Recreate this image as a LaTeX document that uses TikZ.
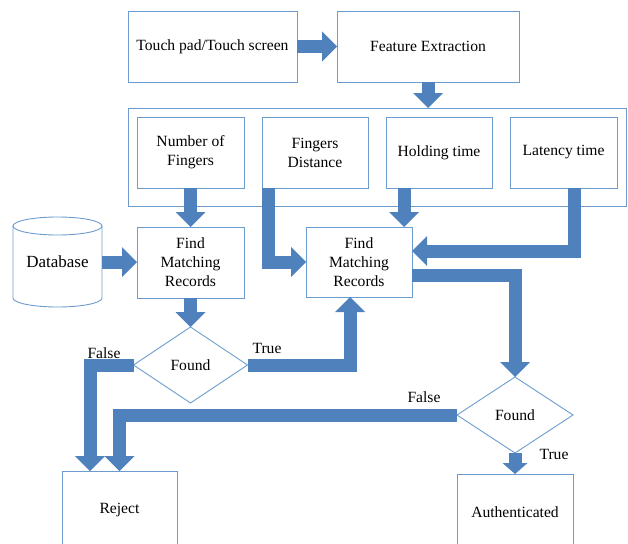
\documentclass[tikz,border=0pt]{standalone}
\usepackage{fontspec}
\setmainfont{Liberation Serif}
\usetikzlibrary{arrows.meta,shapes.geometric,calc}
\definecolor{arrowblue}{RGB}{79,129,189}
\definecolor{boxblue}{RGB}{108,156,206}
\begin{document}
\begin{tikzpicture}[x=1pt,y=-1pt,
  every node/.style={font=\fontsize{15.6}{19}\selectfont},
  box/.style={draw=boxblue, line width=0.9pt, rectangle, inner sep=0pt, outer sep=0pt, align=center},
  dia/.style={draw=boxblue, line width=0.9pt, diamond, inner sep=0pt, outer sep=0pt, align=center},
  flow/.style={draw=arrowblue, line width=13pt, line join=miter, -{Triangle[width=30pt,length=15pt,line width=0pt]}},
  lbl/.style={inner sep=0pt}
]
\useasboundingbox (0,0) rectangle (628,543);
\clip (0,0) rectangle (628,543);

% container and boxes
\node[box, minimum width=498pt, minimum height=98pt] (cont) at (377,157) {};
\node[box, minimum width=169pt, minimum height=71pt] (touch) at (212.5,46.5) {Touch pad/Touch screen};
\node[box, minimum width=182pt, minimum height=71pt] (feat) at (428,46.5) {Feature Extraction};
\node[box, minimum width=107pt, minimum height=71pt] (nof) at (190.5,152.5) {Number of\\Fingers};
\node[box, minimum width=106pt, minimum height=71pt] (fd) at (315,152.5) {Fingers\\Distance};
\node[box, minimum width=106pt, minimum height=71pt] (ht) at (439,152.5) {Holding time};
\node[box, minimum width=107pt, minimum height=71pt] (lt) at (563.5,152.5) {Latency time};

% database cylinder
\node[inner sep=0pt, minimum width=89pt, minimum height=90pt, font=\fontsize{17}{20}\selectfont] (db) at (57.5,262) {Database};
\draw[boxblue, line width=0.9pt] (57.5,226) ellipse [x radius=44.5pt, y radius=9pt];
\draw[boxblue, line width=0.9pt] (13,226) -- (13,298) arc[start angle=180, end angle=360, x radius=44.5pt, y radius=9pt] -- (102,226);

\node[box, minimum width=107pt, minimum height=71pt] (fmr1) at (190.5,262.5) {Find\\Matching\\Records};
\node[box, minimum width=106pt, minimum height=70pt] (fmr2) at (359,262) {Find\\Matching\\Records};
\node[dia, minimum width=114pt, minimum height=76pt] (d1) at (190.5,365) {Found};
\node[dia, minimum width=116pt, minimum height=76pt] (d2) at (515,415) {Found};
\node[box, minimum width=115pt, minimum height=78pt] (rej) at (119.5,510) {Reject};
\node[box, minimum width=116pt, minimum height=76pt] (auth) at (515,512) {Authenticated};

% labels
\node[lbl] (f1) at (104,353) {False};
\node[lbl] (t1) at (267,348) {True};
\node[lbl] (f2) at (424,397) {False};
\node[lbl] (t2) at (554,454) {True};

% helper coordinates
\coordinate (htx) at ([xshift=-8pt]fmr2.north east);
\coordinate (fdx) at ([xshift=6.5pt]fd.south west);
\coordinate (ltx) at ([xshift=10.5pt]lt.south);
\coordinate (ltin) at ([yshift=11pt]fmr2.east);
\coordinate (fmr2out) at ([yshift=-13pt]fmr2.east);
\coordinate (fmr2in) at ([xshift=-9pt]fmr2.south);
\coordinate (rejl) at ([xshift=-29.5pt]rej.north);

% connectors
\draw[flow] (touch.east) -- (feat.west);
\draw[flow] (feat.south) -- (feat.south |- cont.north);
\draw[flow] (nof.south) -- (fmr1.north);
\draw[flow] (htx |- ht.south) -- (htx);
\draw[flow] (fdx) |- (fmr2.west);
\draw[flow] (ltx) |- (ltin);
\draw[flow] (db.east) -- (db.east -| fmr1.west);
\draw[flow] (fmr1.south) -- (d1.north);
\draw[flow] (fmr2out) -| (d2.north);
\draw[flow] (d1.east) -| (fmr2in);
\draw[flow] (d1.west) -| (rejl);
\draw[flow] (d2.west) -| (rej.north);
\draw[flow, -{Triangle[width=25pt,length=11pt,line width=0pt]}] (d2.south) -- (auth.north);
\end{tikzpicture}
\end{document}
